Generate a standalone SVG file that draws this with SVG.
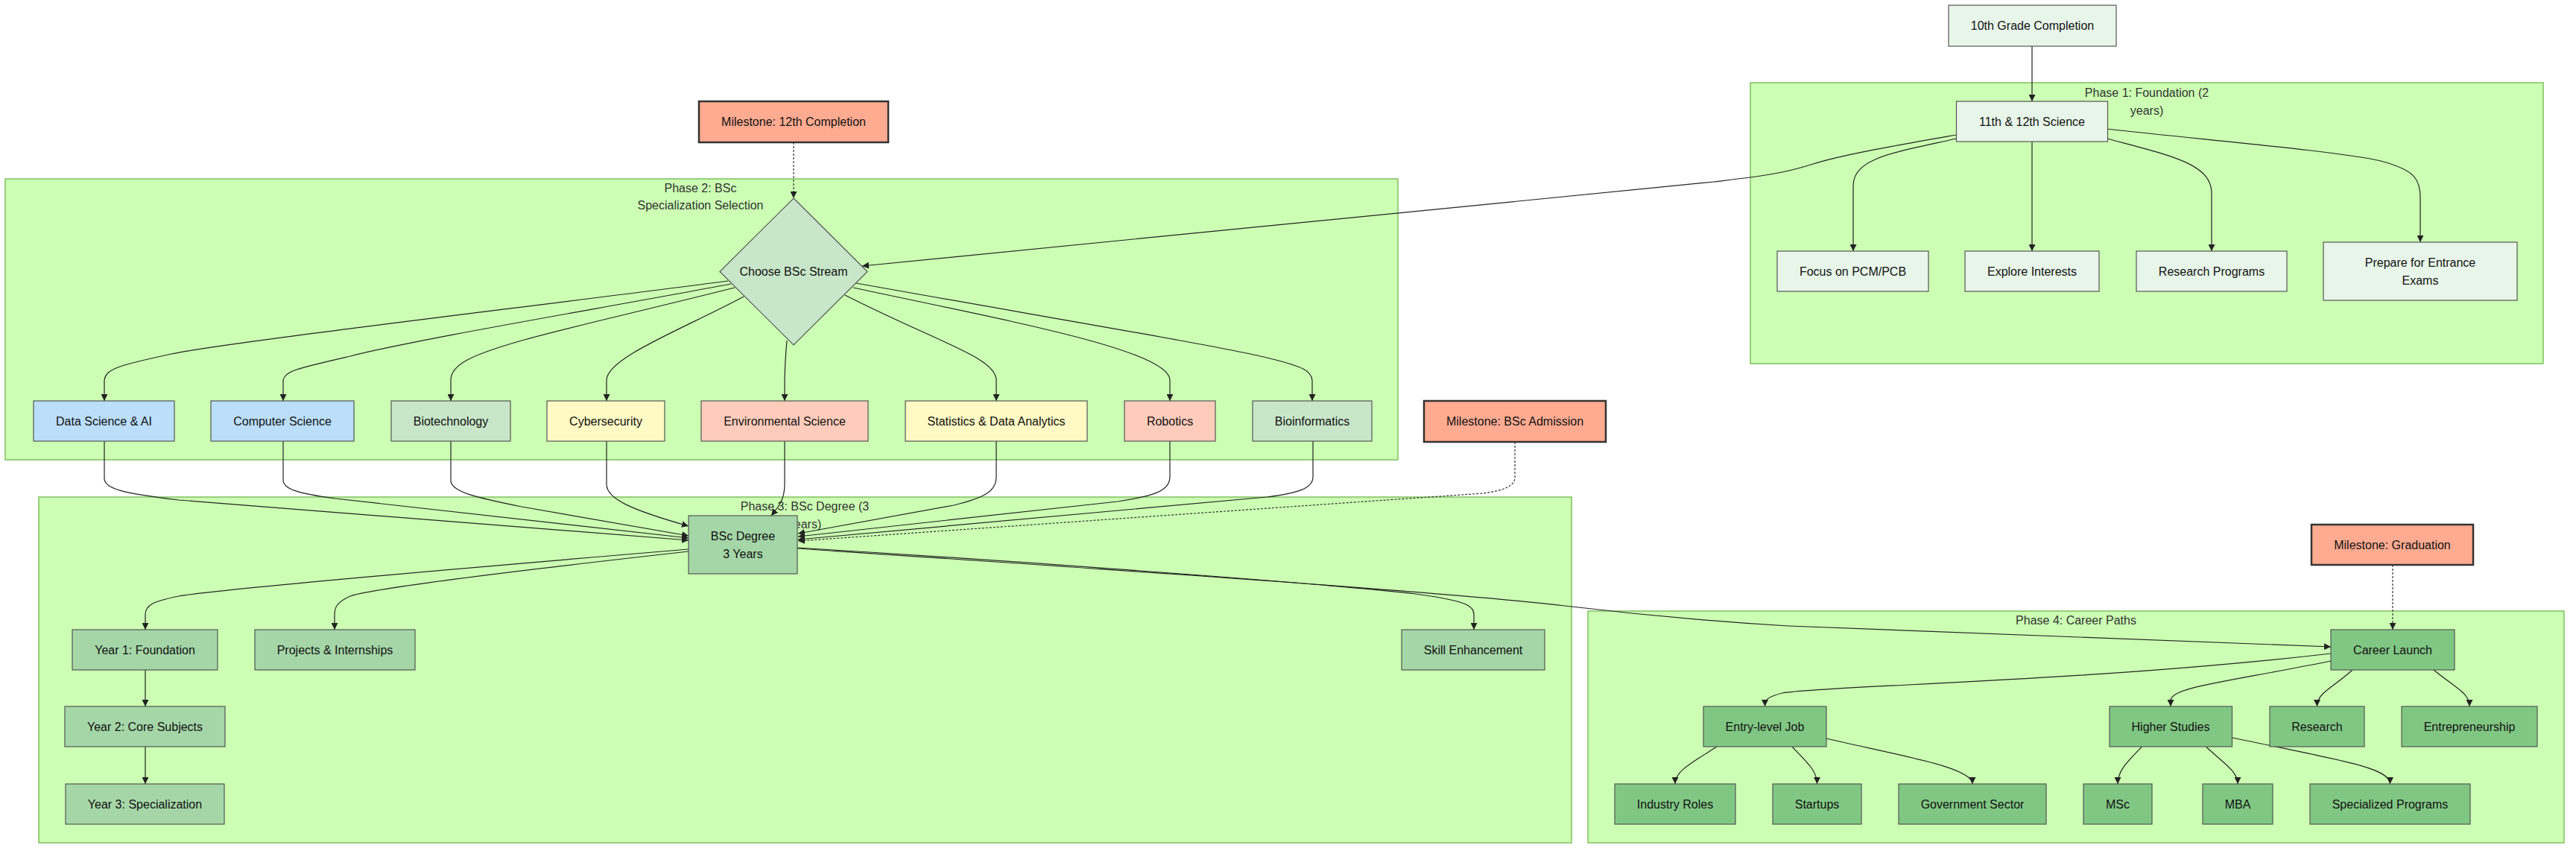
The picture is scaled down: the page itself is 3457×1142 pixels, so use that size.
<svg xmlns="http://www.w3.org/2000/svg" width="3457" height="1142" viewBox="0 0 3457 1142">
<style>
.cl{fill:#ccffb3;stroke:#7fc05f;stroke-width:1.5}
.ct{font-family:"Liberation Sans",Arial,sans-serif;font-size:16px;fill:#333;text-anchor:middle}
.t{font-family:"Liberation Sans",Arial,sans-serif;font-size:16px;fill:#111;text-anchor:middle;dominant-baseline:central}
.n rect,.n polygon{stroke:#555;stroke-width:1.2}
.p1{fill:#e8f5e9}
.p3{fill:#a5d6a7}
.p4{fill:#81c784}
.ms{fill:#ffab91;stroke:#333 !important;stroke-width:2.5 !important}
.blue{fill:#bbdefb}
.gr{fill:#c8e6c9}
.yel{fill:#fff9c4}
.org{fill:#ffccbc}
.e{fill:none;stroke:#222;stroke-width:1.2;marker-end:url(#arr)}
.d{stroke:#333;stroke-width:1.2;stroke-dasharray:3 2}
</style>
<defs>
<marker id="arr" viewBox="0 0 10 10" refX="10" refY="5" markerUnits="userSpaceOnUse" markerWidth="9" markerHeight="9" orient="auto">
<path d="M0,0 L10,5 L0,10 z" fill="#222"/>
</marker>
</defs>
<rect width="3457" height="1142" fill="#ffffff"/>

<g id="clusters">
<g id="phase1"><rect class="cl" x="2349" y="111" width="1064" height="377"/>
<text class="ct" x="2881" y="130">Phase 1: Foundation (2</text><text class="ct" x="2881" y="154">years)</text></g>
<g id="phase2"><rect class="cl" x="7" y="240" width="1869" height="377"/>
<text class="ct" x="940" y="258">Phase 2: BSc</text><text class="ct" x="940" y="281">Specialization Selection</text></g>
<g id="phase3"><rect class="cl" x="52" y="667" width="2057" height="464"/>
<text class="ct" x="1080" y="685">Phase 3: BSc Degree (3</text><text class="ct" x="1080" y="709">years)</text></g>
<g id="phase4"><rect class="cl" x="2131" y="820" width="1310" height="311"/>
<text class="ct" x="2786" y="838">Phase 4: Career Paths</text></g>
</g>

<g id="connectors">
<path class="e" d="M2727,62 L2727,136"/>
<path class="e" d="M2625.5,181 C2540,196 2470,208 2430,221 C2390,234 2350,238 2300,244 L1157,357"/>
<path class="e" d="M2625.5,186 C2540,205 2487,212 2487,250 L2487,337"/>
<path class="e" d="M2727,190 L2727,337"/>
<path class="e" d="M2828,186 C2917,210 2968,220 2968,260 L2968,337"/>
<path class="e" d="M2828,173 C2950,187 3140,203 3195,216 C3240,228 3248,240 3248,265 L3248,325"/>
<path class="e d" d="M1065,191 L1065,266"/>

<path class="e" d="M977,377 C700,413 300,460 230,475 C160,490 140,495 140,512 L140,538"/>
<path class="e" d="M981,381 C800,415 560,455 470,478 C400,494 380,498 380,512 L380,538"/>
<path class="e" d="M986,386 C850,420 760,440 700,457 C630,477 605,490 605,510 L605,538"/>
<path class="e" d="M998,398 C920,440 814,480 814,510 L814,538"/>
<path class="e" d="M1056,457 C1054,480 1053,500 1053,515 L1053,538"/>
<path class="e" d="M1134,396 C1260,460 1337,480 1337,510 L1337,538"/>
<path class="e" d="M1145,386 C1350,430 1570,470 1570,510 L1570,538"/>
<path class="e" d="M1149,380 C1400,425 1640,465 1700,480 C1750,492 1761,498 1761,512 L1761,538"/>

<path class="e" d="M140,592 L140,642 C140,656 165,662 240,671 L924,725"/>
<path class="e" d="M380,592 L380,644 C380,656 398,662 450,669 L924,722"/>
<path class="e" d="M605,592 L605,645 C605,660 640,668 700,680 L924,719"/>
<path class="e" d="M814,592 L814,650 C814,670 850,685 924,706"/>
<path class="e" d="M1053,592 L1053,650 C1053,670 1045,680 1035,692"/>
<path class="e" d="M1337,592 L1337,640 C1337,660 1320,668 1280,678 L1071,716"/>
<path class="e" d="M1570,592 L1570,640 C1570,660 1545,666 1500,673 L1071,720"/>
<path class="e" d="M1762,592 L1762,640 C1762,656 1740,662 1700,667 L1071,724"/>
<path class="e d" d="M2033,593 L2033,640 C2033,652 2020,658 1990,662 L1071,726"/>

<path class="e" d="M924,737 C650,760 300,790 240,800 C205,807 195,812 195,825 L195,845"/>
<path class="e" d="M924,740 C700,765 500,790 470,800 C452,808 449,815 449,825 L449,845"/>
<path class="e" d="M1070,735 C1400,755 1800,785 1900,797 C1965,806 1978,812 1978,825 L1978,845"/>
<path class="e" d="M1070,736 C1500,765 1950,795 2100,813 C2200,825 2300,834 2400,840 L3128,868"/>
<path class="e" d="M195,899 L195,948"/>
<path class="e" d="M195,1002 L195,1052"/>

<path class="e d" d="M3211,758 L3211,845"/>
<path class="e" d="M3128,877 C2800,915 2450,920 2392,930 C2373,935 2368.5,938 2368.5,948"/>
<path class="e" d="M3128,887 C2990,915 2913,922 2913,940 L2913,948"/>
<path class="e" d="M3157,899 C3128,925 3109.5,930 3109.5,948"/>
<path class="e" d="M3266,899 C3298,925 3314,930 3314,948"/>
<path class="e" d="M2304,1002 C2268,1025 2248,1035 2248,1052"/>
<path class="e" d="M2405,1002 C2427,1025 2438.5,1035 2438.5,1052"/>
<path class="e" d="M2451,991 C2555,1015 2647,1030 2647,1052"/>
<path class="e" d="M2874.5,1002 C2852,1025 2842,1035 2842,1052"/>
<path class="e" d="M2960.5,1002 C2985,1025 3003,1035 3003,1052"/>
<path class="e" d="M2995.5,990 C3140,1020 3207.5,1030 3207.5,1052"/>
</g>

<g id="nodes">
<g id="n10th" class="n"><rect class="p1" x="2615" y="7" width="225" height="55"/><text class="t" x="2727.5" y="34.5">10th Grade Completion</text></g>
<g id="n11th" class="n"><rect class="p1" x="2625.5" y="136" width="203" height="54"/><text class="t" x="2727" y="163">11th &amp; 12th Science</text></g>
<g id="nFocus" class="n"><rect class="p1" x="2385" y="337" width="203" height="54"/><text class="t" x="2486.5" y="364">Focus on PCM/PCB</text></g>
<g id="nExplore" class="n"><rect class="p1" x="2637" y="337" width="180" height="54"/><text class="t" x="2727" y="364">Explore Interests</text></g>
<g id="nResProg" class="n"><rect class="p1" x="2867" y="337" width="202" height="54"/><text class="t" x="2968" y="364">Research Programs</text></g>
<g id="nPrepare" class="n"><rect class="p1" x="3118" y="325" width="260" height="78"/><text class="t" x="3248" y="352">Prepare for Entrance</text><text class="t" x="3248" y="376">Exams</text></g>

<g id="nMs12" class="n"><rect class="ms" x="938" y="136" width="254" height="55"/><text class="t" x="1065" y="163.5">Milestone: 12th Completion</text></g>
<g id="nChoose" class="n"><polygon class="gr" points="1065,266 1164,364.5 1065,463 966,364.5"/><text class="t" x="1065" y="364.5">Choose BSc Stream</text></g>
<g id="nDS" class="n"><rect class="blue" x="45" y="538" width="189" height="54"/><text class="t" x="139.5" y="565">Data Science &amp; AI</text></g>
<g id="nCS" class="n"><rect class="blue" x="283" y="538" width="192" height="54"/><text class="t" x="379" y="565">Computer Science</text></g>
<g id="nBio" class="n"><rect class="gr" x="525" y="538" width="160" height="54"/><text class="t" x="605" y="565">Biotechnology</text></g>
<g id="nCyber" class="n"><rect class="yel" x="734" y="538" width="158" height="54"/><text class="t" x="813" y="565">Cybersecurity</text></g>
<g id="nEnv" class="n"><rect class="org" x="941" y="538" width="224" height="54"/><text class="t" x="1053" y="565">Environmental Science</text></g>
<g id="nStats" class="n"><rect class="yel" x="1215" y="538" width="244" height="54"/><text class="t" x="1337" y="565">Statistics &amp; Data Analytics</text></g>
<g id="nRobotics" class="n"><rect class="org" x="1509" y="538" width="122" height="54"/><text class="t" x="1570" y="565">Robotics</text></g>
<g id="nBioinfo" class="n"><rect class="gr" x="1681" y="538" width="160" height="54"/><text class="t" x="1761" y="565">Bioinformatics</text></g>
<g id="nMsBSc" class="n"><rect class="ms" x="1911" y="538" width="244" height="55"/><text class="t" x="2033" y="565.5">Milestone: BSc Admission</text></g>

<g id="nBSc" class="n"><rect class="p3" x="924" y="692" width="146" height="78"/><text class="t" x="997" y="719">BSc Degree</text><text class="t" x="997" y="743">3 Years</text></g>
<g id="nY1" class="n"><rect class="p3" x="97" y="845" width="195" height="54"/><text class="t" x="194.5" y="872">Year 1: Foundation</text></g>
<g id="nProj" class="n"><rect class="p3" x="342" y="845" width="215" height="54"/><text class="t" x="449.5" y="872">Projects &amp; Internships</text></g>
<g id="nY2" class="n"><rect class="p3" x="87" y="948" width="215" height="54"/><text class="t" x="194.5" y="975">Year 2: Core Subjects</text></g>
<g id="nY3" class="n"><rect class="p3" x="88" y="1052" width="213" height="54"/><text class="t" x="194.5" y="1079">Year 3: Specialization</text></g>
<g id="nSkill" class="n"><rect class="p3" x="1881" y="845" width="192" height="54"/><text class="t" x="1977" y="872">Skill Enhancement</text></g>

<g id="nMsGrad" class="n"><rect class="ms" x="3102" y="704" width="217" height="54"/><text class="t" x="3210.5" y="731">Milestone: Graduation</text></g>
<g id="nCareer" class="n"><rect class="p4" x="3128" y="845" width="166" height="54"/><text class="t" x="3211" y="872">Career Launch</text></g>
<g id="nEntry" class="n"><rect class="p4" x="2286" y="948" width="165" height="54"/><text class="t" x="2368.5" y="975">Entry-level Job</text></g>
<g id="nHigher" class="n"><rect class="p4" x="2831" y="948" width="164.5" height="54"/><text class="t" x="2913" y="975">Higher Studies</text></g>
<g id="nResearch" class="n"><rect class="p4" x="3046" y="948" width="127" height="54"/><text class="t" x="3109.5" y="975">Research</text></g>
<g id="nEntre" class="n"><rect class="p4" x="3223" y="948" width="182" height="54"/><text class="t" x="3314" y="975">Entrepreneurship</text></g>
<g id="nIndustry" class="n"><rect class="p4" x="2167" y="1052" width="162" height="54"/><text class="t" x="2248" y="1079">Industry Roles</text></g>
<g id="nStartups" class="n"><rect class="p4" x="2379" y="1052" width="119" height="54"/><text class="t" x="2438.5" y="1079">Startups</text></g>
<g id="nGov" class="n"><rect class="p4" x="2548" y="1052" width="198" height="54"/><text class="t" x="2647" y="1079">Government Sector</text></g>
<g id="nMSc" class="n"><rect class="p4" x="2796" y="1052" width="92" height="54"/><text class="t" x="2842" y="1079">MSc</text></g>
<g id="nMBA" class="n"><rect class="p4" x="2956" y="1052" width="94" height="54"/><text class="t" x="3003" y="1079">MBA</text></g>
<g id="nSpec" class="n"><rect class="p4" x="3100" y="1052" width="215" height="54"/><text class="t" x="3207.5" y="1079">Specialized Programs</text></g>
</g>
</svg>
